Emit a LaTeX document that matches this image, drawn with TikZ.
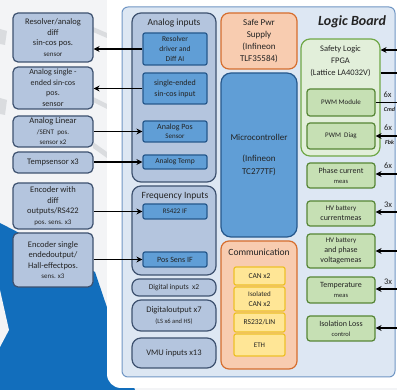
\documentclass[tikz,border=0pt]{standalone}
\usepackage{fontspec}
\setmainfont{Carlito}
\usepackage{xcolor}
\usepackage{tikz}
\usetikzlibrary{arrows.meta, positioning}
\definecolor{lbbg}{RGB}{243,244,246}
\definecolor{lbblue}{RGB}{18,110,188}
\definecolor{lbgrey}{RGB}{218,220,223}
\definecolor{lbfill}{RGB}{221,231,243}
\definecolor{lbdraw}{RGB}{112,150,196}
\definecolor{snfill}{RGB}{180,197,222}
\definecolor{sndraw}{RGB}{62,82,112}
\definecolor{iffill}{RGB}{96,158,214}
\definecolor{ifdraw}{RGB}{38,88,140}
\definecolor{pwfill}{RGB}{248,204,176}
\definecolor{pwdraw}{RGB}{214,110,46}
\definecolor{cnfill}{RGB}{255,230,150}
\definecolor{cndraw}{RGB}{238,192,40}
\definecolor{fgfill}{RGB}{226,239,218}
\definecolor{fgdraw}{RGB}{112,168,72}
\definecolor{msfill}{RGB}{198,224,180}
\definecolor{msdraw}{RGB}{86,134,54}
\definecolor{txt}{RGB}{35,35,35}

\begin{document}
\begin{tikzpicture}[x=1pt, y=-1pt,
  every node/.style={font=\fontsize{8.5}{10.5}\selectfont, text=txt},
  sensor/.style={rectangle, draw=sndraw, fill=snfill, line width=1.2pt,
                 rounded corners=5pt, align=center, inner sep=0pt,
                 minimum width=80pt},
  group/.style={rectangle, draw=sndraw, fill=snfill, line width=1.2pt,
                rounded corners=9pt, align=center, inner sep=0pt,
                minimum width=84pt},
  ifbox/.style={rectangle, draw=ifdraw, fill=iffill, line width=1.2pt,
                rounded corners=2pt, align=center, inner sep=0pt,
                minimum width=64pt, font=\fontsize{7.5}{10}\selectfont},
  pwr/.style={rectangle, draw=pwdraw, fill=pwfill, line width=1.2pt,
              rounded corners=8pt, align=center, inner sep=0pt,
              minimum width=76pt},
  canbox/.style={rectangle, draw=cndraw, fill=cnfill, line width=1.2pt,
                 rounded corners=2pt, align=center, inner sep=0pt,
                 minimum width=51pt, font=\fontsize{7.5}{9.5}\selectfont},
  meas/.style={rectangle, draw=msdraw, fill=msfill, line width=1.2pt,
               rounded corners=3pt, align=center, inner sep=0pt,
               minimum width=68pt, font=\fontsize{8}{10}\selectfont},
  sig/.style={-{Stealth[length=6pt, width=6pt]}, line width=1.6pt},
  sline/.style={line width=1.6pt},
  mult/.style={font=\fontsize{8.5}{10}\selectfont},
  tag/.style={font=\fontsize{6}{7}\selectfont\bfseries\itshape},
]
\useasboundingbox (0,0) rectangle (397,390);

% Background
\fill[lbbg] (0,0) rectangle (397,390);
\fill[lbblue] (0,223) -- (95,272) -- (135,390) -- (0,390) -- cycle;
\fill[lbbg] (0,290) -- (9,330) -- (0,347) -- cycle;
\fill[lbgrey] (0,29) -- (7,31) -- (5,45) -- (0,44) -- cycle;
\fill[lbgrey] (0,98) -- (7,100) -- (5,115) -- (0,114) -- cycle;
\fill[lbgrey] (93,27) -- (107,33) -- (107,38) -- (93,32) -- cycle;
\fill[lbgrey] (93,97) -- (107,104) -- (107,109) -- (93,102) -- cycle;
\fill[lbgrey] (93,142) -- (107,152) -- (107,158) -- (93,148) -- cycle;
\fill[white, rounded corners=14pt] (107,-20) rectangle (430,388);

% Logic board
\node[draw=lbdraw, fill=lbfill, line width=1pt, rounded corners=6pt,
      minimum width=273pt, minimum height=370pt] (board) at (258.5,192) {};
\node[font=\fontsize{14}{16}\selectfont\bfseries\itshape] (btitle) at (352,22) {Logic Board};

% Sensors
\node[sensor, minimum height=49pt] (res) at (53,37.5)
  {Resolver/analog\\diff\\sin-cos pos.\\{\fontsize{7}{8}\selectfont sensor}};
\node[sensor, minimum height=42pt, font=\fontsize{8}{10.5}\selectfont] (sese) at (53,88)
  {Analog single -\\ended sin-cos\\pos.\\sensor};
\node[sensor, minimum height=31pt] (lin) at (53,131.5)
  {Analog Linear\\{\fontsize{7}{10}\selectfont /SENT\ \ pos.}\\{\fontsize{7}{10}\selectfont sensor x2}};
\node[sensor, minimum height=21pt] (tmps) at (53,162.5) {Tempsensor x3};
\node[sensor, minimum height=46pt] (encd) at (53,206)
  {Encoder with\\diff\\outputs/RS422\\{\fontsize{7}{8}\selectfont pos. sens. x3}};
\node[sensor, minimum height=54pt] (encs) at (53,260)
  {Encoder single\\endedoutput/\\Hall-effectpos.\\{\fontsize{7}{8}\selectfont sens. x3}};

% Analog / frequency inputs
\node[group, minimum height=169pt] (ana) at (174,97.5) {};
\node[font=\fontsize{9.5}{11}\selectfont] (anatitle) at (174,23) {Analog inputs};
\node[ifbox, minimum height=32pt] (resdrv) at (175,49) {Resolver\\driver and\\Diff AI};
\node[ifbox, minimum height=31pt, font=\fontsize{8}{11}\selectfont] (sinin) at (175,88.5) {single-ended\\sin-cos input};
\node[ifbox, minimum height=21pt, font=\fontsize{8}{9}\selectfont] (apos) at (175,131.5) {Analog Pos\\{\fontsize{7}{8}\selectfont Sensor}};
\node[ifbox, minimum height=14pt] (atemp) at (175,162) {Analog Temp};

\node[group, minimum height=89pt] (freq) at (174,230.5) {};
\node[font=\fontsize{9.5}{11}\selectfont] (freqtitle) at (175,196) {Frequency Inputs};
\node[ifbox, minimum height=15pt, font=\fontsize{7}{8}\selectfont] (rs422) at (175,211.5) {RS422 IF};
\node[ifbox, minimum height=15pt, font=\fontsize{8}{9}\selectfont] (possens) at (175,259.5) {Pos Sens IF};

\node[group, minimum height=17pt, rounded corners=7pt, font=\fontsize{7.5}{9}\selectfont] (digin) at (174,287.5) {Digital inputs\ \ x2};
\node[group, minimum height=31pt] (digout) at (174,315.5)
  {Digitaloutput x7\\[1pt]{\fontsize{6.5}{8}\selectfont (LS x6 and HS)}};
\node[group, minimum height=30pt] (vmu) at (174,353) {VMU inputs x13};

% Power, controller, communication
\node[pwr, minimum height=56pt, font=\fontsize{9}{12}\selectfont] (psu) at (259,41)
  {Safe Pwr\\Supply\\(Infineon\\TLF35584)};
\node[rectangle, draw=ifdraw, fill=iffill, line width=1.2pt, rounded corners=10pt,
      minimum width=76pt, minimum height=164pt, align=center,
      font=\fontsize{9}{13}\selectfont] (mcu) at (259,155)
  {Microcontroller\\[8pt](Infineon\\TC277TF)};
\node[pwr, minimum height=128pt] (comm) at (259,305) {};
\node[font=\fontsize{9.5}{11}\selectfont] (commtitle) at (259,252) {Communication};
\node[canbox, minimum height=18pt] (can) at (259.5,276) {CAN x2};
\node[canbox, minimum height=24pt] (iso) at (259.5,299)
  {{\fontsize{7}{8}\selectfont Isolated}\\CAN x2};
\node[canbox, minimum height=19pt] (rs232) at (259.5,322.5) {RS232/LIN};
\node[canbox, minimum height=22pt, font=\fontsize{7}{8}\selectfont] (eth) at (259.5,345) {ETH};

% Safety logic and measurements
\node[rectangle, draw=fgdraw, fill=fgfill, line width=1.2pt, rounded corners=9pt,
      minimum width=79pt, minimum height=117pt] (fpga) at (340.5,97.5) {};
\node[align=center, font=\fontsize{8.5}{12}\selectfont] (fpgatitle) at (340.5,61.5)
  {Safety Logic\\FPGA\\(Lattice LA4032V)};
\node[meas, minimum height=27pt, font=\fontsize{7}{9}\selectfont] (pwm) at (341,102.5) {PWM Module};
\node[meas, minimum height=26pt, font=\fontsize{7}{9}\selectfont] (diag) at (341,136) {PWM\ \ Diag};
\node[meas, minimum height=25pt] (phase) at (341,175.5)
  {Phase current\\{\fontsize{6.5}{9}\selectfont meas}};
\node[meas, minimum height=25pt] (hvcur) at (341,213.5)
  {{\fontsize{7}{9}\selectfont HV battery}\\currentmeas};
\node[meas, minimum height=34pt] (hvvolt) at (341,251)
  {{\fontsize{7}{9}\selectfont HV battery}\\and phase\\voltagemeas};
\node[meas, minimum height=26pt] (temp) at (341,290)
  {Temperature\\{\fontsize{6.5}{9}\selectfont meas}};
\node[meas, minimum height=25pt] (isol) at (341,328.5)
  {Isolation Loss\\{\fontsize{6.5}{9}\selectfont control}};

% ── Sensor flows ──
\draw[sig] (resdrv.west) -- (resdrv.west -| res.east);
\draw[sig] (sinin.west) -- (sinin.west -| sese.east);
\draw[sig] (apos.west -| lin.east) -- (apos.west);
\draw[sig] (atemp.west -| tmps.east) -- (atemp.west);
\draw[sig] (rs422.west -| encd.east) -- (rs422.west);
\draw[sig] (possens.west -| encs.east) -- (possens.west);

% ── Board edge flows ──
\coordinate (e1) at (397,50);
\coordinate (e2) at (397,73);
\coordinate (e3) at (397,102.5);
\coordinate (e4) at (397,136);
\coordinate (e5) at (397,174);
\coordinate (e6) at (397,212);
\coordinate (e7) at (397,251);
\coordinate (e8) at (397,289);
\coordinate (e9) at (397,328);
\draw[sig] (e1) -- (e1 -| fpga.east);
\draw[sline] (e2 -| fpga.east) -- (e2);
\draw[sline] (pwm.east) -- (e3);
\draw[sig] (e4) -- (diag.east);
\draw[sig] (e5) -- (e5 -| phase.east);
\draw[sig] (e6) -- (e6 -| hvcur.east);
\draw[sig] (e7) -- (e7 -| hvvolt.east);
\draw[sig] (e8) -- (e8 -| temp.east);
\draw[sig] (e9) -- (e9 -| isol.east);

% Multiplicities
\node[mult] (m1) at (387.5,95) {6x};
\node[tag]  (m1t) at (389.5,109.5) {Cmd};
\node[mult] (m2) at (388,128) {6x};
\node[tag]  (m2t) at (389.5,142) {Fbk};
\node[mult] (m3) at (388,166) {6x};
\node[mult] (m4) at (388,205) {3x};
\node[mult] (m5) at (388,282) {3x};

\end{tikzpicture}
\end{document}
